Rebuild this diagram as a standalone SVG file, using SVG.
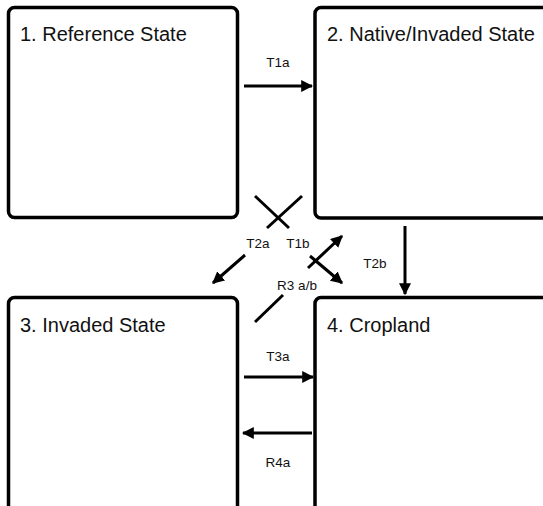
<svg xmlns="http://www.w3.org/2000/svg" width="543" height="506" viewBox="0 0 543 506">
<style>
.box{fill:#fff;stroke:#000;stroke-width:3.5}
.t{font-family:"Liberation Sans",Arial,sans-serif;font-size:20px;fill:#111}
.l{font-family:"Liberation Sans",Arial,sans-serif;font-size:13.5px;fill:#111;text-anchor:middle}
.c{stroke:#000;stroke-width:3;fill:none}
</style>
<defs>
<marker id="ah" viewBox="0 0 10 10" refX="9" refY="5" markerWidth="4" markerHeight="4" orient="auto" markerUnits="strokeWidth">
<path d="M0,0L10,5L0,10z" fill="#000"/>
</marker>
</defs>
<rect width="543" height="506" fill="#fff"/>
<g id="n1"><rect class="box" x="8.5" y="7.5" width="229" height="210" rx="6"/><text class="t" x="20" y="41">1. Reference State</text></g>
<g id="n2"><rect class="box" x="315" y="7.5" width="260" height="210.5" rx="6"/><text class="t" x="327" y="41">2. Native/Invaded State</text></g>
<g id="n3"><rect class="box" x="8.5" y="297.5" width="229" height="240" rx="6"/><text class="t" x="20" y="332">3. Invaded State</text></g>
<g id="n4"><rect class="box" x="315" y="297.5" width="260" height="240" rx="6"/><text class="t" x="327" y="332">4. Cropland</text></g>
<g id="connectors">
<line class="c" x1="244" y1="86" x2="312" y2="86" marker-end="url(#ah)"/>
<line class="c" x1="405" y1="226" x2="405" y2="294" marker-end="url(#ah)"/>
<line class="c" x1="244" y1="377" x2="313" y2="377" marker-end="url(#ah)"/>
<line class="c" x1="312" y1="433" x2="243" y2="433" marker-end="url(#ah)"/>
<line class="c" x1="255" y1="196" x2="289" y2="228"/>
<line class="c" x1="302" y1="196" x2="267" y2="228"/>
<line class="c" x1="245" y1="255" x2="213" y2="283" marker-end="url(#ah)"/>
<line class="c" x1="308" y1="268" x2="342" y2="236" marker-end="url(#ah)"/>
<line class="c" x1="310" y1="256" x2="342" y2="283" marker-end="url(#ah)"/>
<line class="c" x1="283" y1="295" x2="255" y2="322"/>
</g>
<g id="labels">
<text class="l" x="278" y="67">T1a</text>
<text class="l" x="258" y="248">T2a</text>
<text class="l" x="298" y="248">T1b</text>
<text class="l" x="297" y="290">R3 a/b</text>
<text class="l" x="375" y="268">T2b</text>
<text class="l" x="278" y="361">T3a</text>
<text class="l" x="278" y="467">R4a</text>
</g>
</svg>
